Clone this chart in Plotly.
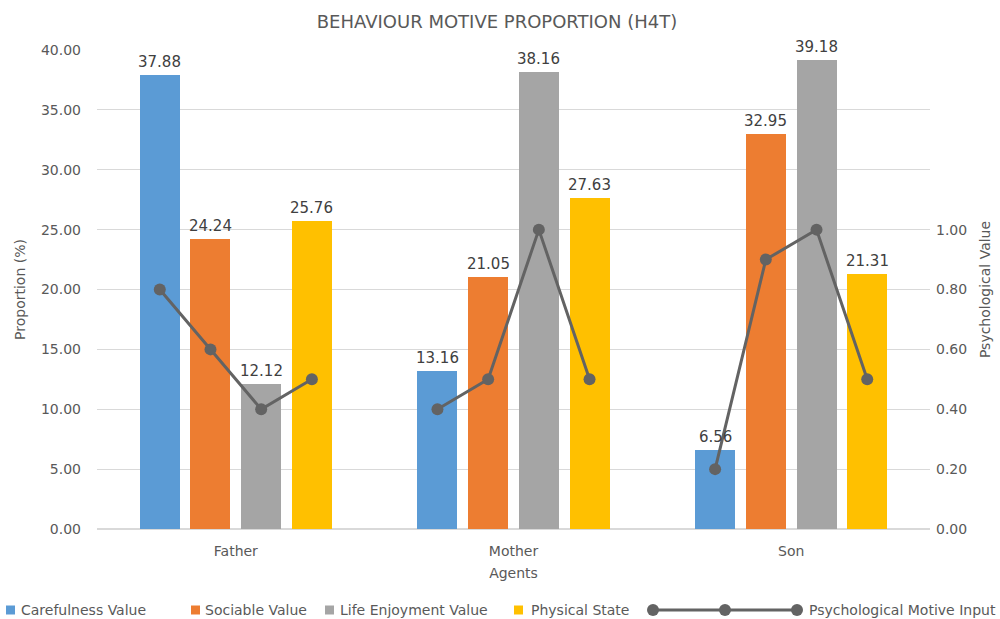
import plotly.graph_objects as go

agents = ["Father", "Mother", "Son"]
series_names = ["Carefulness Value", "Sociable Value", "Life Enjoyment Value", "Physical State"]
careful = [37.88, 13.16, 6.56]
sociable = [24.24, 21.05, 32.95]
enjoyment = [12.12, 38.16, 39.18]
physical = [25.76, 27.63, 21.31]
motive_name = "Psychological Motive Input"
# psychological motive input per agent, one value per behaviour column
motive = [
    [0.8, 0.6, 0.4, 0.5],
    [0.4, 0.5, 1.0, 0.5],
    [0.2, 0.9, 1.0, 0.5],
]

colors = ["#5B9BD5", "#ED7D31", "#A5A5A5", "#FFC000"]
line_color = "#636363"
text_color = "#595959"
font_family = "DejaVu Sans"

# plot area in pixels
W, H = 1000, 619
L, R, T, B = 97, 930, 50, 529

pitch = 0.1826
bar_w = 0.144
offsets = [(i - 1.5) * pitch for i in range(4)]

fig = go.Figure()
annotations = []
for i, (name, vals) in enumerate(zip(series_names, [careful, sociable, enjoyment, physical])):
    xs = [k + offsets[i] for k in range(len(agents))]
    fig.add_trace(go.Bar(
        x=xs, y=vals, width=bar_w, name=name,
        marker=dict(color=colors[i], line=dict(width=0)),
        showlegend=False,
    ))
    # value labels above each bar
    for x, v in zip(xs, vals):
        annotations.append(dict(x=x, y=v, xref="x", yref="y", text=f"{v:.2f}",
                                showarrow=False, yanchor="bottom", yshift=2,
                                font=dict(size=15, color="#404040", family=font_family)))

# motive line: one segment per agent, gaps between groups
lx, ly = [], []
for k, row in enumerate(motive):
    for i, v in enumerate(row):
        lx.append(k + offsets[i])
        ly.append(v)
    lx.append(None)
    ly.append(None)
fig.add_trace(go.Scatter(
    x=lx, y=ly, yaxis="y2", mode="lines+markers",
    name=motive_name,
    line=dict(color=line_color, width=3),
    marker=dict(color=line_color, size=12),
    connectgaps=False,
    showlegend=False,
))

def px_x(p):
    return (p - L) / (R - L)

def px_y(p):
    return (B - p) / (B - T)

shapes = []
leg_y = 610
square_items = [(6, 19), (191, 203), (325, 338), (514, 529)]
for (sx, tx), name, c in zip(square_items, series_names, colors):
    shapes.append(dict(type="rect", xref="paper", yref="paper",
                       x0=px_x(sx), x1=px_x(sx + 9), y0=px_y(leg_y + 4.5), y1=px_y(leg_y - 4.5),
                       fillcolor=c, line=dict(width=0)))
    annotations.append(dict(text=name, xref="paper", yref="paper", x=px_x(tx), y=px_y(leg_y),
                            xanchor="left", yanchor="middle", showarrow=False,
                            font=dict(size=14, color=text_color, family=font_family)))
shapes.append(dict(type="line", xref="paper", yref="paper",
                   x0=px_x(653), x1=px_x(797), y0=px_y(leg_y), y1=px_y(leg_y),
                   line=dict(color=line_color, width=3)))
for mx in (653, 725, 797):
    shapes.append(dict(type="circle", xref="paper", yref="paper",
                       x0=px_x(mx - 6), x1=px_x(mx + 6), y0=px_y(leg_y + 6), y1=px_y(leg_y - 6),
                       fillcolor=line_color, line=dict(width=0)))
annotations.append(dict(text=motive_name, xref="paper", yref="paper", x=px_x(807), y=px_y(leg_y),
                        xanchor="left", yanchor="middle", showarrow=False,
                        font=dict(size=14, color=text_color, family=font_family)))

fig.update_layout(
    width=W, height=H,
    margin=dict(l=L, r=W - R, t=T, b=H - B),
    plot_bgcolor="white", paper_bgcolor="white",
    font=dict(family=font_family, color=text_color, size=14),
    title=dict(text="BEHAVIOUR MOTIVE PROPORTION (H4T)", x=0.497, xanchor="center",
               y=1 - 22 / H, yanchor="middle",
               font=dict(size=18, color=text_color, family=font_family)),
    xaxis=dict(
        range=[-0.5, 2.5], tickvals=list(range(len(agents))), ticktext=agents,
        showgrid=False, zeroline=False, showline=False, ticks="", automargin=False,
        ticklabelstandoff=12,
        tickfont=dict(size=14, color=text_color),
        title=dict(text="Agents", font=dict(size=14, color=text_color), standoff=10),
    ),
    yaxis=dict(
        range=[0, 40], tickvals=[0, 5, 10, 15, 20, 25, 30, 35, 40], tickformat=".2f",
        showgrid=True, gridcolor="#D9D9D9", gridwidth=1, zeroline=True, zerolinecolor="#D9D9D9",
        showline=False, ticks="", ticklabelstandoff=15, automargin=False,
        tickfont=dict(size=14, color=text_color),
        title=dict(text="Proportion (%)", font=dict(size=14, color=text_color), standoff=12),
    ),
    yaxis2=dict(
        overlaying="y", side="right", range=[0, 1.6],
        tickvals=[0, 0.2, 0.4, 0.6, 0.8, 1.0], tickformat=".2f",
        showgrid=False, zeroline=False, showline=False, ticks="", ticklabelstandoff=5,
        automargin=False,
        tickfont=dict(size=14, color=text_color),
        title=dict(text="Psychological Value", font=dict(size=14, color=text_color), standoff=14),
    ),
    bargap=0, shapes=shapes, annotations=annotations,
)

fig.write_html("out.html")
